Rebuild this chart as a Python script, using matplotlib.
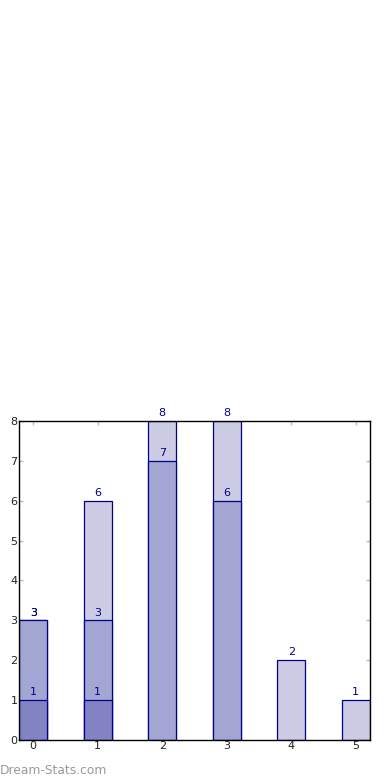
import matplotlib
matplotlib.use("Agg")
import matplotlib.pyplot as plt

categories = [0, 1, 2, 3, 4, 5]
light_vals = [3, 6, 8, 8, 2, 1]
mid_vals = [3, 3, 7, 6, 0, 0]
dark_vals = [1, 1, 0, 0, 0, 0]
y_ticks = [0, 1, 2, 3, 4, 5, 6, 7, 8]

fig = plt.figure(figsize=(3.9, 7.8), dpi=100)
ax = fig.add_axes([0.0487, 0.0513, 0.9, 0.4090])

width = 0.44
edge = '#000088'
layers = [(light_vals, '#ccccE5'), (mid_vals, '#a3a5d2'), (dark_vals, '#8383c4')]
for vals, col in layers:
    xs = [c for c, v in zip(categories, vals) if v > 0]
    vs = [v for v in vals if v > 0]
    ax.bar(xs, vs, width=width, color=col, edgecolor=edge, linewidth=0.9, zorder=2)
    for x, v in zip(xs, vs):
        ax.annotate(str(v), (x, v), xytext=(0, 2), textcoords='offset points',
                    ha='center', va='bottom', fontsize=8, color='#000088', zorder=3)

ax.set_xlim(-0.22, 5.22)
ax.set_ylim(0, 8)
ax.set_xticks(categories)
ax.set_yticks(y_ticks)
ax.tick_params(direction='in', length=3, color='#bbbbbb', labelsize=8,
               labelcolor='#222222', top=True, right=True, pad=1, width=1)
for s in ax.spines.values():
    s.set_linewidth(1)
    s.set_color('black')

fig.text(0.0, 0.004, 'Dream-Stats.com', fontsize=8.8, color='#999999',
         ha='left', va='bottom')

fig.savefig('out.png', dpi=100)
